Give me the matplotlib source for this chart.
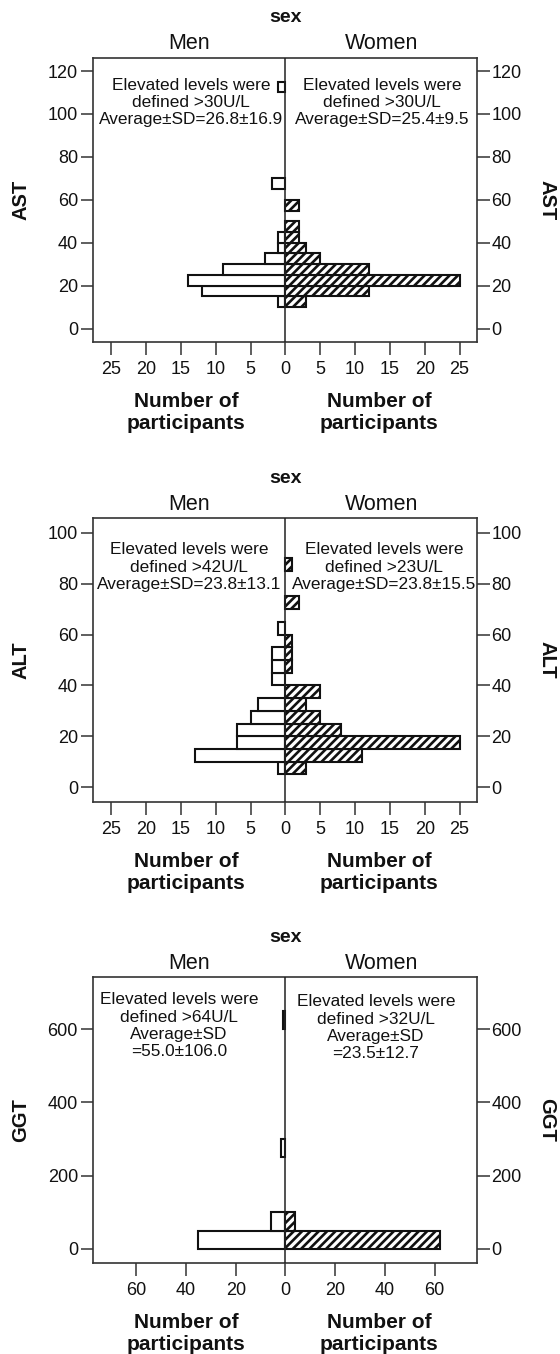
import numpy as np
import matplotlib
matplotlib.use("Agg")
import matplotlib.pyplot as plt

plt.rcParams['font.family'] = ['Liberation Sans', 'DejaVu Sans']
plt.rcParams['hatch.linewidth'] = 1.9

# ---------------- data ----------------
sex_labels = ["Men", "Women"]

ast_bin_width = 5
ast_bins = [10, 15, 20, 25, 30, 35, 40, 45, 55, 65, 110]
ast_men = [1, 12, 14, 9, 3, 1, 1, 0, 0, 2, 1]
ast_women = [3, 12, 25, 12, 5, 3, 2, 2, 2, 0, 0]
ast_notes = ["Elevated levels were\ndefined >30U/L\nAverage±SD=26.8±16.9",
             "Elevated levels were\ndefined >30U/L\nAverage±SD=25.4±9.5"]

alt_bin_width = 5
alt_bins = [5, 10, 15, 20, 25, 30, 35, 40, 45, 50, 55, 60, 70, 85]
alt_men = [1, 13, 7, 7, 5, 4, 0, 2, 2, 2, 0, 1, 0, 0]
alt_women = [3, 11, 25, 8, 5, 3, 5, 0, 1, 1, 1, 0, 2, 1]
alt_notes = ["Elevated levels were\ndefined >42U/L\nAverage±SD=23.8±13.1",
             "Elevated levels were\ndefined >23U/L\nAverage±SD=23.8±15.5"]

ggt_bin_width = 50
ggt_bins = [0, 50, 250, 600]
ggt_men = [35, 6, 2, 1]
ggt_women = [62, 4, 0, 0]
ggt_notes = ["Elevated levels were\ndefined >64U/L\nAverage±SD\n=55.0±106.0",
             "Elevated levels were\ndefined >32U/L\nAverage±SD\n=23.5±12.7"]

x_ticks_small = [-25, -20, -15, -10, -5, 0, 5, 10, 15, 20, 25]
x_ticks_big = [-60, -40, -20, 0, 20, 40, 60]

W, H = 560, 1354
fig = plt.figure(figsize=(W / 100, H / 100), dpi=100)

def fx(px):
    return px / W

def fy(py):
    return 1 - py / H

panels = [
    dict(name="AST", bins=ast_bins, bw=ast_bin_width, men=ast_men, women=ast_women,
         notes=ast_notes, top=57.7, bottom=341.7, ylim=(-6.1, 126.2),
         yticks=[0, 20, 40, 60, 80, 100, 120], xlim=(-27.7, 27.5), xticks=x_ticks_small,
         note_y=[(191, 86), (382, 86)]),
    dict(name="ALT", bins=alt_bins, bw=alt_bin_width, men=alt_men, women=alt_women,
         notes=alt_notes, top=518.3, bottom=801.7, ylim=(-5.7, 105.7),
         yticks=[0, 20, 40, 60, 80, 100], xlim=(-27.7, 27.5), xticks=x_ticks_small,
         note_y=[(189, 550.7), (384, 550.7)]),
    dict(name="GGT", bins=ggt_bins, bw=ggt_bin_width, men=ggt_men, women=ggt_women,
         notes=ggt_notes, top=977.3, bottom=1262.7, ylim=(-38, 742),
         yticks=[0, 200, 400, 600], xlim=(-77.6, 77.0), xticks=x_ticks_big,
         note_y=[(179, 1000.7), (376, 1002.7)]),
]

left_px, right_px = 92.5, 477.0
txt_color = "#111111"

for p in panels:
    ax = fig.add_axes([fx(left_px), fy(p["bottom"]), fx(right_px - left_px),
                       (p["bottom"] - p["top"]) / H])
    bins = np.array(p["bins"], dtype=float)
    men = np.array(p["men"], dtype=float)
    women = np.array(p["women"], dtype=float)
    centers = bins + p["bw"] / 2
    mm = men > 0
    ww = women > 0
    ax.barh(centers[mm], -men[mm], height=p["bw"], left=0, facecolor="white",
            edgecolor="#111111", linewidth=1.5, zorder=3)
    ax.barh(centers[ww], women[ww], height=p["bw"], left=0, facecolor="white",
            edgecolor="#111111", linewidth=1.5, hatch="////", zorder=3)
    ax.axvline(0, color="#222222", linewidth=1.1, zorder=4)
    ax.set_xlim(*p["xlim"])
    ax.set_ylim(*p["ylim"])
    ax.set_xticks(p["xticks"])
    ax.set_xticklabels([str(abs(t)) for t in p["xticks"]])
    ax.set_yticks(p["yticks"])
    ax.tick_params(axis="y", left=True, right=True, labelleft=True, labelright=True,
                   direction="out", length=9, width=1.1, pad=1.5, labelsize=13,
                   colors="#333333", labelcolor=txt_color)
    ax.tick_params(axis="x", direction="out", length=9, width=1.1, pad=5, labelsize=13,
                   colors="#333333", labelcolor=txt_color)
    for s in ax.spines.values():
        s.set_linewidth(1.2)
        s.set_color("#333333")

    x0, x1 = p["xlim"]
    cpx = left_px + (0 - x0) / (x1 - x0) * (right_px - left_px)
    mid = (p["top"] + p["bottom"]) / 2

    # titles
    fig.text(fx(cpx), fy(p["top"] - 40), "sex", ha="center", va="center",
             fontsize=14, fontweight="bold", color=txt_color)
    fig.text(fx((left_px + cpx) / 2), fy(p["top"] - 14), sex_labels[0], ha="center",
             va="center", fontsize=15.5, color=txt_color)
    fig.text(fx((cpx + right_px) / 2), fy(p["top"] - 14), sex_labels[1], ha="center",
             va="center", fontsize=15.5, color=txt_color)

    # y labels
    fig.text(fx(21), fy(mid), p["name"], rotation=90, ha="center", va="center",
             fontsize=14.5, fontweight="bold", color=txt_color)
    fig.text(fx(546.7), fy(mid), p["name"], rotation=270, ha="center", va="center",
             fontsize=14.5, fontweight="bold", color=txt_color)

    # x labels
    for xc in [(left_px + cpx) / 2 - 3, (cpx + right_px) / 2 - 2]:
        fig.text(fx(xc), fy(p["bottom"] + 60), "Number of", ha="center", va="center",
                 fontsize=15, fontweight="bold", color=txt_color)
        fig.text(fx(xc), fy(p["bottom"] + 82), "participants", ha="center",
                 va="center", fontsize=15, fontweight="bold", color=txt_color)

    # notes
    for note, (nx, ny) in zip(p["notes"], p["note_y"]):
        fig.text(fx(nx), fy(ny - 8.5), note, ha="center", va="top", fontsize=12.4,
                 linespacing=1.2, color=txt_color)

fig.savefig("out.png", dpi=100)
